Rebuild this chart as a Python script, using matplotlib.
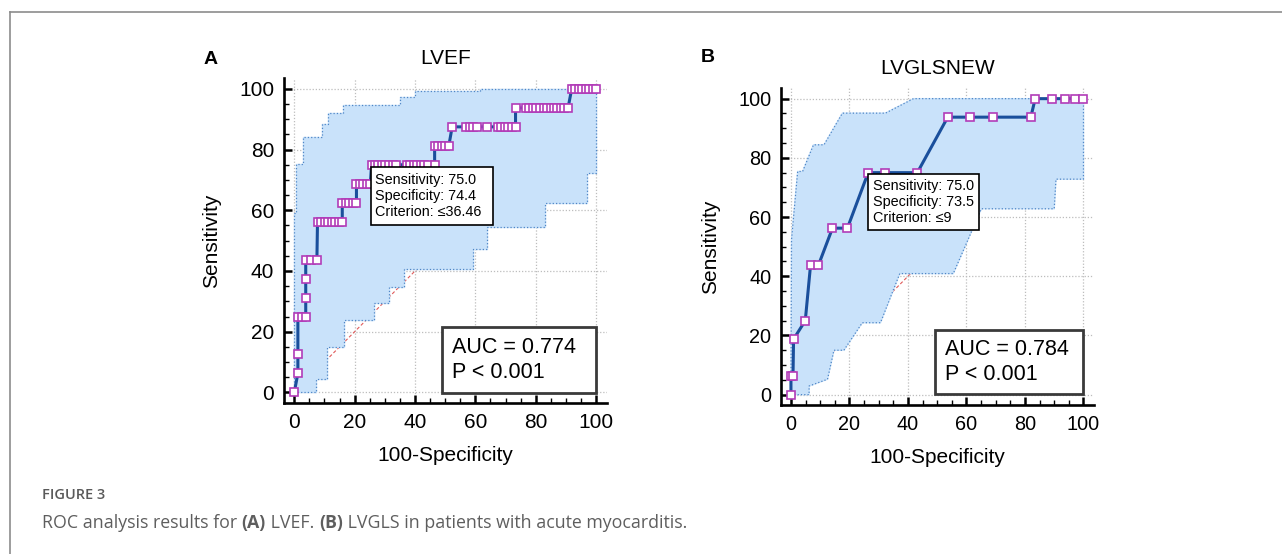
import matplotlib
matplotlib.use("Agg")
import matplotlib.pyplot as plt
from matplotlib.lines import Line2D
from matplotlib.patches import Rectangle

# ------------- DATA -------------
# Panel A: LVEF, points on the ROC curve (100-Specificity, Sensitivity)
a_fpr = [0, 1.2, 1.2, 1.2, 2.5, 3.8, 3.8, 3.8, 3.8, 5.5, 7.5,            # 0 .. 43.75
         7.7, 9.0, 10.2, 11.3, 12.5, 13.6, 14.8, 15.9,                    # 56.25
         15.9, 17.0, 18.2, 19.4, 20.6,                                     # 62.5
         20.6, 21.7, 22.9, 24.0, 25.2,                                     # 68.75
         25.6, 26.7, 27.9, 29.1, 30.2, 31.4, 32.6, 33.7,                   # 75
         37.2, 38.4, 39.5, 40.7, 41.9, 43.0, 44.2, 46.5,
         46.5, 47.7, 48.8, 50.0, 51.2,                                     # 81.25
         52.3, 57.0, 58.1, 59.3, 60.5, 64.0,                               # 87.5
         67.4, 68.6, 69.8, 70.9, 72.1, 73.3,
         73.3, 76.7, 77.9, 79.1, 80.2, 81.4, 82.6, 83.7,                   # 93.75
         84.9, 86.0, 87.2, 88.4, 89.5, 90.7,
         91.9, 93.0, 94.2, 95.3, 96.5, 97.7, 98.8, 100]                    # 100
a_tpr = [0, 6.25, 12.5, 25, 25, 25, 31.25, 37.5, 43.75, 43.75, 43.75,
         56.25, 56.25, 56.25, 56.25, 56.25, 56.25, 56.25, 56.25,
         62.5, 62.5, 62.5, 62.5, 62.5,
         68.75, 68.75, 68.75, 68.75, 68.75,
         75, 75, 75, 75, 75, 75, 75, 75,
         75, 75, 75, 75, 75, 75, 75, 75,
         81.25, 81.25, 81.25, 81.25, 81.25,
         87.5, 87.5, 87.5, 87.5, 87.5, 87.5,
         87.5, 87.5, 87.5, 87.5, 87.5, 87.5,
         93.75, 93.75, 93.75, 93.75, 93.75, 93.75, 93.75, 93.75,
         93.75, 93.75, 93.75, 93.75, 93.75, 93.75,
         100, 100, 100, 100, 100, 100, 100, 100]

# Panel A: 95% confidence band edges
a_up_x = [0, 0, 0.6, 0.6, 3.0, 3.0, 9.1, 9.1, 11.3, 11.3, 16.2, 16.2, 35.0, 35.0, 40.0, 40.0, 61.5, 61.5, 100]
a_up_y = [0, 59, 59, 75.2, 75.2, 84.3, 84.3, 88.3, 88.3, 92.2, 92.2, 94.7, 94.7, 97.2, 97.2, 99.2, 99.2, 100, 100]
a_lo_x = [0, 7.2, 7.2, 10.8, 10.8, 16.4, 16.4, 26.3, 26.3, 31.3, 31.3, 36.2, 36.2,
          59.1, 59.1, 63.8, 63.8, 82.9, 82.9, 96.9, 96.9, 100, 100]
a_lo_y = [0, 0, 4.5, 4.5, 15.0, 15.0, 24.0, 24.0, 29.3, 29.3, 34.8, 34.8, 40.5,
          40.5, 47.1, 47.1, 54.6, 54.6, 62.3, 62.3, 72.4, 72.4, 100]

# Panel B: LVGLSNEW
b_fpr = [0, 0, 0.7, 0.9, 4.9, 6.7, 9.4, 14.2, 19.3, 26.4, 32.2, 43.2,
         53.6, 61.1, 69.1, 82.0, 83.5, 89.2, 93.6, 97.1, 100]
b_tpr = [0, 6.25, 6.25, 18.75, 25, 43.75, 43.75, 56.25, 56.25, 75, 75, 75,
         93.75, 93.75, 93.75, 93.75, 100, 100, 100, 100, 100]

b_up_x = [0, 0.2, 2.3, 4.0, 7.7, 11.3, 17.6, 32.3, 41.9, 100]
b_up_y = [0, 52.4, 75.4, 75.4, 84.4, 84.4, 95.1, 95.1, 100, 100]
b_lo_x = [0, 6.2, 6.2, 12.5, 14.7, 18.1, 24.4, 30.6, 37.2, 55.5, 65.1, 90.0, 90.6, 100, 100]
b_lo_y = [0, 0, 2.9, 5.2, 15.0, 15.0, 24.3, 24.3, 40.9, 40.9, 62.8, 62.8, 72.8, 72.8, 100]

titles = ["LVEF", "LVGLSNEW"]
letters = ["A", "B"]
sens = ["75.0", "75.0"]
spec = ["74.4", "73.5"]
crit = ["\u226436.46", "\u22649"]
aucs = ["0.774", "0.784"]
ticks = [0, 20, 40, 60, 80, 100]
# -------------------------------------------------------

plt.rcParams["font.family"] = ["Liberation Sans", "DejaVu Sans"]

W, H = 1282, 554
fig = plt.figure(figsize=(W / 100, H / 100), dpi=100)

BAND = "#c9e2fa"
BAND_EDGE = "#4f86c6"
LINE = "#1a4f9c"
MARK = "#b23cb8"


def fx(px):
    return px / W


def fy(py):
    return 1 - py / H


def draw_panel(ax, fpr, tpr, up_x, up_y, lo_x, lo_y, idx, info_box, auc_box, tick_fs):
    ax.set_xlim(-3.4, 103.6)
    ax.set_ylim(-3.5, 103.6)

    # grid + chance line under the band
    ax.set_axisbelow(True)
    ax.grid(True, which="major", color="#bdbdbd", linestyle=(0, (1, 1.5)), linewidth=0.9)
    ax.plot([0, 100], [0, 100], color="#e05a5a", linestyle=(0, (3, 2)), linewidth=0.8, zorder=0.8)

    poly_x = list(up_x) + list(lo_x[::-1])
    poly_y = list(up_y) + list(lo_y[::-1])
    ax.fill(poly_x, poly_y, color=BAND, zorder=1)
    ax.plot(up_x, up_y, color=BAND_EDGE, linestyle=":", linewidth=0.9, zorder=1.1)
    ax.plot(lo_x, lo_y, color=BAND_EDGE, linestyle=":", linewidth=0.9, zorder=1.1)

    ax.plot(fpr, tpr, color=LINE, linewidth=2.2, zorder=3)
    ax.plot(fpr, tpr, linestyle="none", marker="s", markersize=5.5,
            markerfacecolor="white", markeredgecolor=MARK, markeredgewidth=1.2, zorder=4)

    # criterion box
    x0, x1, y0, y1 = info_box
    ax.add_patch(Rectangle((x0, y0), x1 - x0, y1 - y0, facecolor="white",
                           edgecolor="black", linewidth=1.2, zorder=5))
    ax.text(x0 + 1.5, (y0 + y1) / 2,
            f"Sensitivity: {sens[idx]}\nSpecificity: {spec[idx]}\nCriterion: {crit[idx]}",
            fontsize=10.4, va="center", ha="left", linespacing=1.18, zorder=6)

    # AUC box
    x0, x1, y0, y1 = auc_box
    ax.add_patch(Rectangle((x0, y0), x1 - x0, y1 - y0, facecolor="white",
                           edgecolor="#3a3a3a", linewidth=2.0, zorder=5))
    ax.text(x0 + 3.3, (y0 + y1) / 2, f"AUC = {aucs[idx]}\nP < 0.001",
            fontsize=15.5, va="center", ha="left", linespacing=1.2, zorder=6)

    for side in ["top", "right"]:
        ax.spines[side].set_visible(False)
    for side in ["left", "bottom"]:
        ax.spines[side].set_linewidth(1.9)
    ax.set_xticks(ticks)
    ax.set_yticks(ticks)
    ax.set_xticks(range(0, 101, 5), minor=True)
    ax.set_yticks(range(0, 101, 5), minor=True)
    ax.tick_params(which="major", direction="in", length=6, width=1.8,
                   labelsize=tick_fs, pad=7)
    ax.tick_params(which="minor", direction="in", length=3.5, width=1.0)

    ax.set_title(titles[idx], fontsize=15, pad=10)
    ax.set_xlabel("100-Specificity", fontsize=15, labelpad=10)
    ax.set_ylabel("Sensitivity", fontsize=15, labelpad=13)


ax_a = fig.add_axes([fx(284), fy(403), fx(607) - fx(284), fy(78) - fy(403)])
ax_b = fig.add_axes([fx(781), fy(405), fx(1094) - fx(781), fy(88) - fy(405)])

draw_panel(ax_a, a_fpr, a_tpr, a_up_x, a_up_y, a_lo_x, a_lo_y, 0,
           (25.3, 65.8, 55.1, 74.2), (48.9, 100, -0.2, 21.5), 15)
draw_panel(ax_b, b_fpr, b_tpr, b_up_x, b_up_y, b_lo_x, b_lo_y, 1,
           (26.4, 64.3, 55.5, 74.5), (49.3, 100, 0.3, 21.8), 14.3)

fig.text(fx(211), fy(60), letters[0], fontsize=14, fontweight="bold", ha="center", va="center")
fig.text(fx(708), fy(58), letters[1], fontsize=14, fontweight="bold", ha="center", va="center")

# page frame
fig.add_artist(Line2D([fx(10), 1], [fy(12), fy(12)], color="#8c8c8c", linewidth=1.2))
fig.add_artist(Line2D([fx(10), fx(10)], [fy(12), 0], color="#8c8c8c", linewidth=1.2))

# caption
cap_font = ["Open Sans", "DejaVu Sans"]
fig.text(fx(42), fy(495), "FIGURE 3", fontsize=10.5, color="#5a5a5a", fontweight="semibold",
         family=cap_font, va="center")

parts = [("ROC analysis results for ", "normal"), ("(A)", "bold"), (" LVEF. ", "normal"),
         ("(B)", "bold"), (" LVGLS in patients with acute myocarditis.", "normal")]
renderer = fig.canvas.get_renderer()
x = fx(42)
for txt, weight in parts:
    t = fig.text(x, fy(523), txt, fontsize=12.8, color="#5e5e5e", fontweight=weight,
                 family=cap_font, va="center")
    bb = t.get_window_extent(renderer=renderer)
    x += bb.width / W

fig.savefig("out.png", dpi=100)
